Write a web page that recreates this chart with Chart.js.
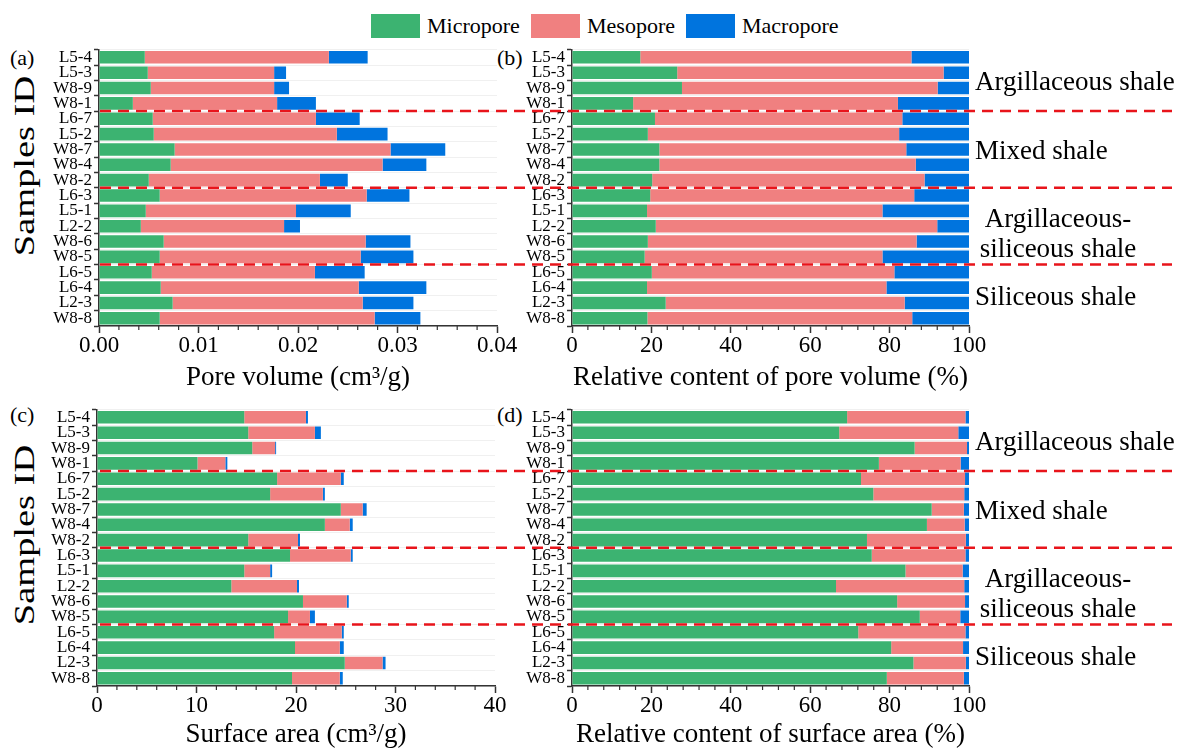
<!DOCTYPE html>
<html>
<head>
<meta charset="utf-8">
<title>Pore structure of shale samples</title>
<script src="https://cdn.jsdelivr.net/npm/chart.js@4.4.1/dist/chart.umd.min.js"></script>
<style>
  body {
    margin: 0;
    width: 1181px;
    height: 748px;
    overflow: hidden;
    position: relative;
    background: #fff;
    font-family: "Liberation Serif", "Times New Roman", serif;
    color: #000;
  }
  canvas { position: absolute; }
  .legend-box { position: absolute; width: 49px; height: 24px; top: 14px; }
  .legend-text { position: absolute; top: 11px; font-size: 22px; line-height: 30px; }
  .panel { position: absolute; font-size: 22px; line-height: 24px; }
  .ytitle {
    position: absolute;
    font-size: 30px;
    white-space: nowrap;
    transform: translate(-50%, -50%) rotate(-90deg) scaleX(1.28);
  }
</style>
</head>
<body>

<div class="legend-box" style="left:371px;background:#3CB371"></div>
<div class="legend-text" style="left:427px">Micropore</div>
<div class="legend-box" style="left:531px;background:#F08080"></div>
<div class="legend-text" style="left:587px">Mesopore</div>
<div class="legend-box" style="left:686px;background:#0074DE"></div>
<div class="legend-text" style="left:742px">Macropore</div>

<div class="panel" style="left:10px;top:46px">(a)</div>
<div class="panel" style="left:497px;top:46px">(b)</div>
<div class="panel" style="left:10px;top:403px">(c)</div>
<div class="panel" style="left:497px;top:403px">(d)</div>

<div class="ytitle" style="left:24px;top:166px">Samples ID</div>
<div class="ytitle" style="left:24px;top:535px">Samples ID</div>

<canvas id="chartA" width="520" height="354" style="left:0;top:40px"></canvas>
<canvas id="chartB" width="1181" height="354" style="left:0;top:40px"></canvas>
<canvas id="chartC" width="520" height="351" style="left:0;top:400px"></canvas>
<canvas id="chartD" width="1181" height="351" style="left:0;top:400px"></canvas>

<script>
// ---- data ----
const samples = ["L5-4", "L5-3", "W8-9", "W8-1", "L6-7", "L5-2", "W8-7", "W8-4", "W8-2",
                 "L6-3", "L5-1", "L2-2", "W8-6", "W8-5", "L6-5", "L6-4", "L2-3", "W8-8"];

// (a) pore volume, cm3/g
const pvMicro = [0.0046, 0.0049, 0.0052, 0.0034, 0.0054, 0.0055, 0.0076, 0.0072, 0.0050,
                 0.0061, 0.0047, 0.0042, 0.0065, 0.0061, 0.0053, 0.0062, 0.0074, 0.0061];
const pvMeso  = [0.0185, 0.0127, 0.0124, 0.0145, 0.0164, 0.0184, 0.0217, 0.0213, 0.0172,
                 0.0208, 0.0151, 0.0144, 0.0203, 0.0202, 0.0164, 0.0199, 0.0191, 0.0216];
const pvMacro = [0.0039, 0.0012, 0.0015, 0.0039, 0.0044, 0.0051, 0.0055, 0.0044, 0.0028,
                 0.0043, 0.0055, 0.0016, 0.0045, 0.0053, 0.0050, 0.0068, 0.0051, 0.0046];

// (b) relative content of pore volume, %
const pvMicroPct = [17.2, 26.5, 27.7, 15.4, 20.9, 19.1, 22.0, 22.0, 20.2,
                    19.7, 18.9, 21.1, 19.1, 18.3, 20.1, 18.9, 23.6, 19.0];
const pvMesoPct  = [68.3, 67.1, 64.4, 66.7, 62.3, 63.3, 62.2, 64.6, 68.6,
                    66.5, 59.3, 70.9, 67.7, 59.9, 61.1, 60.3, 60.2, 66.7];
const pvMacroPct = [14.5, 6.4, 7.9, 17.9, 16.8, 17.6, 15.8, 13.4, 11.2,
                    13.8, 21.8, 8.0, 13.2, 21.8, 18.8, 20.8, 16.2, 14.3];

// (c) surface area
const saMicro = [14.8, 15.2, 15.6, 10.1, 18.1, 17.4, 24.5, 22.9, 15.2,
                 19.4, 14.8, 13.5, 20.7, 19.2, 17.8, 19.9, 24.9, 19.6];
const saMeso  = [6.2, 6.7, 2.3, 2.8, 6.4, 5.3, 2.2, 2.5, 5.0,
                 6.1, 2.6, 6.6, 4.4, 2.2, 6.8, 4.5, 3.8, 4.8];
const saMacro = [0.2, 0.6, 0.1, 0.2, 0.3, 0.2, 0.4, 0.3, 0.2,
                 0.2, 0.2, 0.2, 0.2, 0.5, 0.2, 0.4, 0.3, 0.3];

// (d) relative content of surface area, %
const saMicroPct = [69.3, 67.3, 86.3, 77.3, 72.8, 75.9, 90.6, 89.4, 74.3,
                    75.5, 84.0, 66.5, 81.9, 87.6, 72.1, 80.4, 86.0, 79.3];
const saMesoPct  = [29.8, 30.0, 13.2, 20.6, 26.2, 22.9, 8.1, 9.5, 24.9,
                    23.6, 14.4, 32.3, 17.1, 10.2, 27.0, 18.1, 13.2, 19.4];
const saMacroPct = [0.9, 2.7, 0.5, 2.1, 1.0, 1.2, 1.3, 1.1, 0.8,
                    0.9, 1.6, 1.2, 1.0, 2.2, 0.9, 1.5, 0.8, 1.3];

// shale types: last sample index of each group
const groupEnds = [3, 8, 13, 17];
const groupNames = [["Argillaceous shale"], ["Mixed shale"],
                    ["Argillaceous-", "siliceous shale"], ["Siliceous shale"]];

const poreNames = ["Micropore", "Mesopore", "Macropore"];
const poreColors = ["#3CB371", "#F08080", "#0074DE"];

const FONT = "'Liberation Serif', 'Times New Roman', serif";
const AXIS = "#333";

// small minor ticks between the labelled ones
const minorTicks = {
    id: "minorTicks",
    afterDraw(chart, args, opts) {
        const xs = chart.scales.x;
        const ctx = chart.ctx;
        ctx.save();
        ctx.strokeStyle = AXIS;
        ctx.lineWidth = 1.2;
        for (let i = 1; i * opts.minor < xs.max - 1e-9; i++) {
            if (i % 5 === 0) continue;
            const x = xs.getPixelForValue(i * opts.minor);
            ctx.beginPath();
            ctx.moveTo(x, xs.top);
            ctx.lineTo(x, xs.top + 4);
            ctx.stroke();
        }
        ctx.restore();
    }
};

// red dashed group separators + shale type names (right-hand charts)
const groupMarks = {
    id: "groupMarks",
    afterDatasetsDraw(chart, args, opts) {
        if (!opts.show) return;
        const ys = chart.scales.y;
        const ctx = chart.ctx;
        ctx.save();
        ctx.strokeStyle = "#E8141B";
        ctx.lineWidth = 2.5;
        ctx.setLineDash([11, 7]);
        groupEnds.slice(0, -1).forEach(i => {
            const y = (ys.getPixelForValue(i) + ys.getPixelForValue(i + 1)) / 2;
            ctx.beginPath();
            ctx.moveTo(100, y);
            ctx.lineTo(1172, y);
            ctx.stroke();
        });
        ctx.setLineDash([]);
        ctx.fillStyle = "#000";
        ctx.font = "27px " + FONT;
        ctx.textBaseline = "alphabetic";
        let start = 0;
        groupEnds.forEach((end, g) => {
            const mid = (ys.getPixelForValue(start) + ys.getPixelForValue(end)) / 2;
            const lines = groupNames[g];
            if (lines.length === 1) {
                ctx.textAlign = "left";
                ctx.fillText(lines[0], 975, mid + 9.5);
            } else {
                ctx.textAlign = "center";
                ctx.fillText(lines[0], 1058, mid + 1);
                ctx.fillText(lines[1], 1058, mid + 31);
            }
            start = end + 1;
        });
        ctx.restore();
    }
};

function makeChart(id, series, cfg) {
    new Chart(document.getElementById(id), {
        type: "bar",
        data: {
            labels: samples,
            datasets: series.map((d, k) => ({
                label: poreNames[k],
                data: d,
                backgroundColor: poreColors[k],
                borderWidth: 0,
                barPercentage: 0.82,
                categoryPercentage: 1
            }))
        },
        options: {
            indexAxis: "y",
            responsive: false,
            animation: false,
            layout: { padding: { left: cfg.padLeft, right: cfg.padRight, top: cfg.padTop, bottom: 0 } },
            plugins: {
                legend: { display: false },
                tooltip: { enabled: false },
                minorTicks: { minor: cfg.step / 5 },
                groupMarks: { show: cfg.marks }
            },
            scales: {
                x: {
                    type: "linear",
                    stacked: true,
                    min: 0,
                    max: cfg.max,
                    afterFit: s => { s.height = cfg.xHeight; },
                    ticks: {
                        stepSize: cfg.step,
                        autoSkip: false,
                        maxRotation: 0,
                        padding: 1,
                        color: "#000",
                        font: { family: FONT, size: 23, lineHeight: 1 },
                        callback: v => Number(v).toFixed(cfg.dec)
                    },
                    grid: { drawOnChartArea: false, tickLength: 7, tickColor: AXIS, tickWidth: 1.5 },
                    border: { color: AXIS, width: 1.5 },
                    title: {
                        display: true,
                        text: cfg.title,
                        color: "#000",
                        font: { family: FONT, size: 27 },
                        padding: 0
                    }
                },
                y: {
                    stacked: true,
                    afterFit: s => { s.width = cfg.yWidth; },
                    ticks: {
                        autoSkip: false,
                        padding: 2,
                        color: "#000",
                        font: { family: FONT, size: 17, lineHeight: 0.9 }
                    },
                    grid: {
                        offset: true,
                        color: "rgba(0,0,0,0.06)",
                        tickLength: 5,
                        tickColor: AXIS,
                        tickWidth: 1.5
                    },
                    border: { color: AXIS, width: 1.5 }
                }
            }
        },
        plugins: [minorTicks, groupMarks]
    });
}

makeChart("chartA", [pvMicro, pvMeso, pvMacro], {
    max: 0.04, step: 0.01, dec: 2, title: "Pore volume (cm³/g)",
    padLeft: 0, yWidth: 99, padRight: 23, padTop: 8, xHeight: 68, marks: false
});
makeChart("chartB", [pvMicroPct, pvMesoPct, pvMacroPct], {
    max: 100, step: 20, dec: 0, title: "Relative content of pore volume (%)",
    padLeft: 520, yWidth: 52, padRight: 212, padTop: 8, xHeight: 68, marks: true
});
makeChart("chartC", [saMicro, saMeso, saMacro], {
    max: 40, step: 10, dec: 0, title: "Surface area (cm³/g)",
    padLeft: 0, yWidth: 97, padRight: 25, padTop: 7, xHeight: 65, marks: false
});
makeChart("chartD", [saMicroPct, saMesoPct, saMacroPct], {
    max: 100, step: 20, dec: 0, title: "Relative content of surface area (%)",
    padLeft: 520, yWidth: 52, padRight: 212, padTop: 7, xHeight: 65, marks: true
});
</script>
</body>
</html>
